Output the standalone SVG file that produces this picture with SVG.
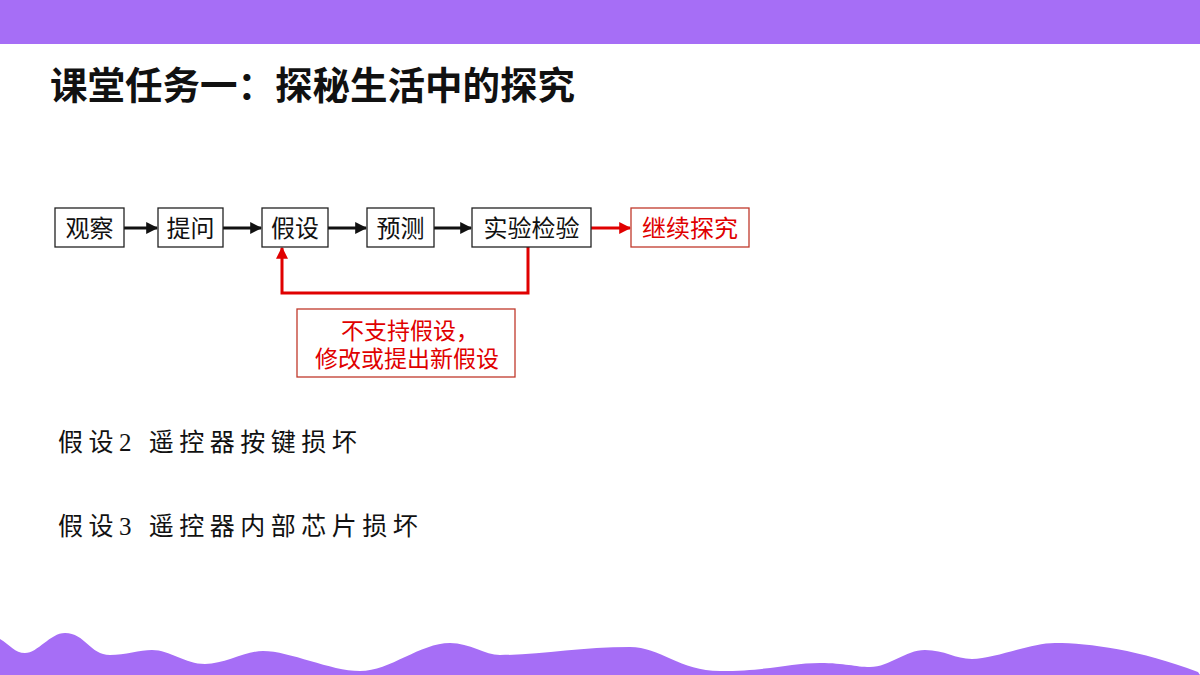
<svg xmlns="http://www.w3.org/2000/svg" width="1200" height="675" viewBox="0 0 1200 675">
<defs>
<style>
.box{fill:#fff;stroke:#222;stroke-width:1.3}
.rbox{fill:#fff;stroke:#c0392b;stroke-width:1.3}
.t{font-family:"Noto Sans CJK SC","Noto Sans",sans-serif;font-size:24px;fill:#111;text-anchor:middle}
.rt{font-family:"Noto Sans CJK SC","Noto Sans",sans-serif;font-size:24px;fill:#e00000;text-anchor:middle}
.nt{font-family:"Noto Sans CJK SC","Noto Sans",sans-serif;font-size:23px;fill:#e00000;text-anchor:middle}
.st{font-family:"Liberation Serif","Noto Sans CJK SC",serif;font-size:25px;fill:#111;letter-spacing:5.5px}
.blk{stroke:#111;stroke-width:3;fill:none}
.red{stroke:#e00000;stroke-width:3;fill:none}
</style>
<marker id="ab" viewBox="0 0 10 10" refX="9" refY="5" markerWidth="4" markerHeight="4" orient="auto" markerUnits="strokeWidth"><path d="M0,0L10,5L0,10z" fill="#111"/></marker>
<marker id="ar" viewBox="0 0 10 10" refX="9" refY="5" markerWidth="4" markerHeight="4" orient="auto" markerUnits="strokeWidth"><path d="M0,0L10,5L0,10z" fill="#e00000"/></marker>
</defs>
<rect width="1200" height="675" fill="#fff"/>
<rect x="0" y="0" width="1200" height="44" fill="#a66ef6"/>
<path d="M0,639 C10,645 15,653 25,653 C38,653 50,633 65,633 C85,633 90,655 110,655 C125,655 140,650 152,650 C170,650 185,664 205,664 C225,664 245,651 263,651 C290,651 330,671 360,671 C390,671 420,643 450,643 C470,643 485,655 500,655 C540,655 580,647 630,647 C660,647 680,671 720,671 C770,671 790,663 820,663 C845,663 855,667 870,667 C890,667 905,650 925,650 C945,650 955,659 972,659 C995,659 1030,643 1055,643 C1090,643 1140,650 1198,672 L1200,675 L0,675 Z" fill="#a66ef6"/>
<text x="50" y="99" style="font-family:'Noto Sans CJK SC','Noto Sans',sans-serif;font-size:37.5px;font-weight:bold;fill:#111">课堂任务一：探秘生活中的探究</text>
<g id="connectors">
<line class="blk" x1="124" y1="228" x2="157" y2="228" marker-end="url(#ab)"/>
<line class="blk" x1="223" y1="228" x2="261" y2="228" marker-end="url(#ab)"/>
<line class="blk" x1="328" y1="228" x2="366" y2="228" marker-end="url(#ab)"/>
<line class="blk" x1="434" y1="228" x2="471" y2="228" marker-end="url(#ab)"/>
<line class="red" x1="591" y1="228" x2="630" y2="228" marker-end="url(#ar)"/>
<polyline class="red" points="528,247 528,293 282,293 282,248" marker-end="url(#ar)"/>
</g>
<g id="n1"><rect class="box" x="55" y="208" width="69" height="39"/><text class="t" x="89.5" y="236.5">观察</text></g>
<g id="n2"><rect class="box" x="158" y="208" width="65" height="39"/><text class="t" x="190.5" y="236.5">提问</text></g>
<g id="n3"><rect class="box" x="262" y="208" width="66" height="39"/><text class="t" x="295" y="236.5">假设</text></g>
<g id="n4"><rect class="box" x="367" y="208" width="67" height="39"/><text class="t" x="400.5" y="236.5">预测</text></g>
<g id="n5"><rect class="box" x="472" y="208" width="119" height="39"/><text class="t" x="531.5" y="236.5">实验检验</text></g>
<g id="n6"><rect class="rbox" x="631" y="208" width="118" height="39"/><text class="rt" x="690" y="236.5">继续探究</text></g>
<g id="note"><rect class="rbox" x="297" y="309" width="218" height="68"/><text class="nt" x="410" y="338.5">不支持假设，</text><text class="nt" x="407" y="367">修改或提出新假设</text></g>
<text class="st" x="58" y="451">假设2 遥控器按键损坏</text>
<text class="st" x="58" y="535">假设3 遥控器内部芯片损坏</text>
</svg>
